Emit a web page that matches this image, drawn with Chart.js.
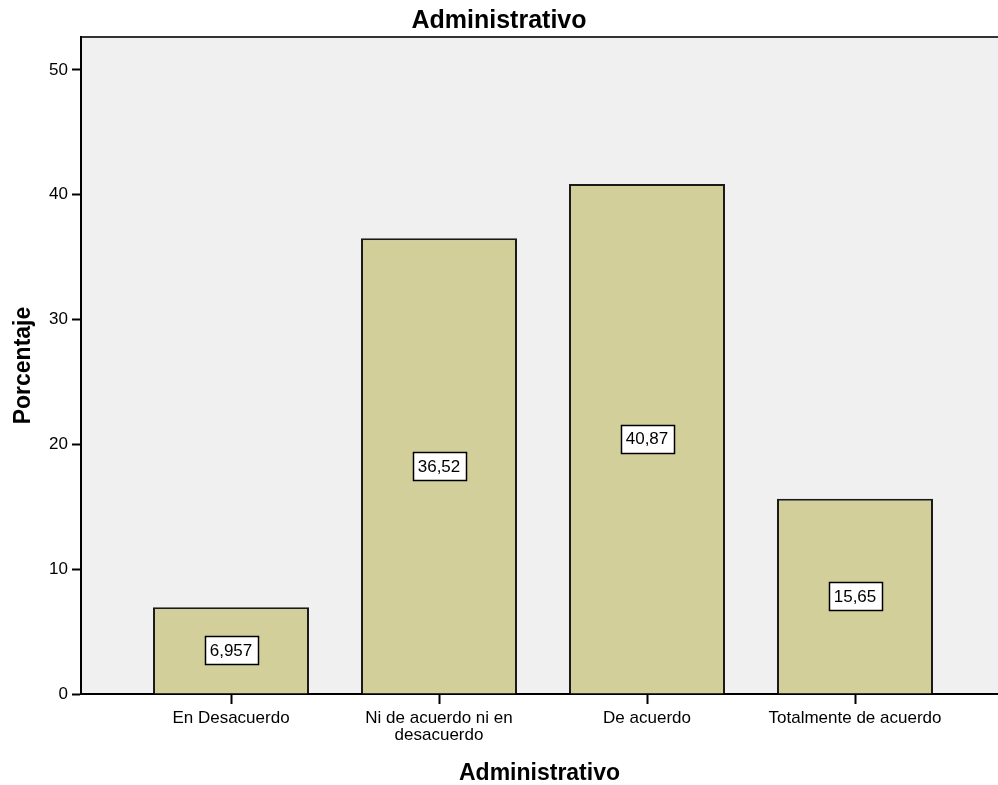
<!DOCTYPE html>
<html>
<head>
<meta charset="utf-8">
<script src="https://cdn.jsdelivr.net/npm/chart.js@4/dist/chart.umd.min.js"></script>
<style>
  html, body { margin: 0; padding: 0; background: #ffffff; }
  #wrap { width: 998px; height: 785px; position: relative; }
</style>
</head>
<body>
<div id="wrap"><canvas id="c" width="998" height="785"></canvas></div>
<script>
const categories = [
  "En Desacuerdo",
  ["Ni de acuerdo ni en", "desacuerdo"],
  "De acuerdo",
  "Totalmente de acuerdo"
];
const percentages = [6.957, 36.52, 40.87, 15.65];
const valueLabels = ["6,957", "36,52", "40,87", "15,65"];
const yTicks = [0, 10, 20, 30, 40, 50];

const FONT = "'Liberation Sans', Arial, Helvetica, sans-serif";

const bgPlugin = {
  id: 'bgPlugin',
  beforeDraw(chart) {
    const { ctx, chartArea: a } = chart;
    ctx.save();
    ctx.fillStyle = '#f0f0f0';
    ctx.fillRect(a.left, a.top, a.right - a.left, a.bottom - a.top);
    ctx.strokeStyle = '#333333';
    ctx.lineWidth = 2;
    ctx.beginPath();
    ctx.moveTo(a.left, a.top);
    ctx.lineTo(a.right, a.top);
    ctx.stroke();
    ctx.restore();
  }
};

const labelPlugin = {
  id: 'labelPlugin',
  afterDatasetsDraw(chart) {
    const { ctx } = chart;
    const meta = chart.getDatasetMeta(0);
    ctx.save();
    ctx.font = '17px ' + FONT;
    ctx.textAlign = 'center';
    ctx.textBaseline = 'middle';
    meta.data.forEach((bar, i) => {
      const txt = valueLabels[i];
      const cy = (bar.y + bar.base) / 2;
      const w = Math.round(ctx.measureText(txt).width + 10);
      const h = 28;
      const x0 = Math.round(bar.x - w / 2) + 0.5;
      const y0 = Math.round(cy - h / 2) + 0.5;
      ctx.fillStyle = '#ffffff';
      ctx.fillRect(x0, y0, w, h);
      ctx.strokeStyle = '#000000';
      ctx.lineWidth = 1.5;
      ctx.strokeRect(x0, y0, w, h);
      ctx.fillStyle = '#000000';
      ctx.fillText(txt, bar.x, cy + 1);
    });
    ctx.restore();
  }
};

new Chart(document.getElementById('c'), {
  type: 'bar',
  data: {
    datasets: [{
      data: percentages.map((v, i) => ({ x: i, y: v })),
      backgroundColor: '#d3cf9a',
      borderColor: '#1a1a1a',
      borderWidth: 2,
      categoryPercentage: 1,
      barPercentage: 0.75
    }]
  },
  options: {
    responsive: false,
    animation: false,
    devicePixelRatio: 1,
    layout: { padding: { left: 0, right: 0, top: 0, bottom: 0 } },
    plugins: {
      legend: { display: false },
      tooltip: { enabled: false },
      title: {
        display: true,
        text: 'Administrativo',
        color: '#000000',
        font: { family: FONT, size: 25, weight: 'bold', lineHeight: 1.2 },
        padding: { top: 6, bottom: 1 }
      }
    },
    scales: {
      x: {
        type: 'linear',
        offset: false,
        min: -0.7212,
        max: 3.6875,
        afterBuildTicks(scale) {
          scale.ticks = categories.map((c, i) => ({ value: i }));
        },
        afterFit(scale) { scale.height = 91; },
        ticks: {
          color: '#000000',
          font: { family: FONT, size: 17, lineHeight: 1.05 },
          padding: 5,
          maxRotation: 0,
          autoSkip: false,
          callback: (v) => categories[v]
        },
        grid: {
          offset: false,
          drawOnChartArea: false,
          drawTicks: true,
          tickLength: 10,
          tickColor: '#000000',
          tickWidth: 2
        },
        border: { display: true, color: '#000000', width: 2 },
        title: {
          display: true,
          text: 'Administrativo',
          color: '#000000',
          font: { family: FONT, size: 23, weight: 'bold', lineHeight: 1.0 },
          padding: { top: 0, bottom: 0 }
        }
      },
      y: {
        type: 'linear',
        min: 0,
        max: 52.64,
        afterFit(scale) { scale.width = 81; },
        afterBuildTicks(scale) {
          scale.ticks = yTicks.map(v => ({ value: v }));
        },
        ticks: {
          color: '#000000',
          font: { family: FONT, size: 17 },
          padding: 4,
          stepSize: 10,
          includeBounds: false
        },
        grid: {
          drawOnChartArea: false,
          drawTicks: true,
          tickLength: 9,
          tickColor: '#000000',
          tickWidth: 2
        },
        border: { display: true, color: '#000000', width: 2 },
        title: {
          display: true,
          text: 'Porcentaje',
          color: '#000000',
          font: { family: FONT, size: 23, weight: 'bold', lineHeight: 1.2 },
          padding: { top: 10, bottom: 0 }
        }
      }
    }
  },
  plugins: [bgPlugin, labelPlugin]
});
</script>
</body>
</html>
